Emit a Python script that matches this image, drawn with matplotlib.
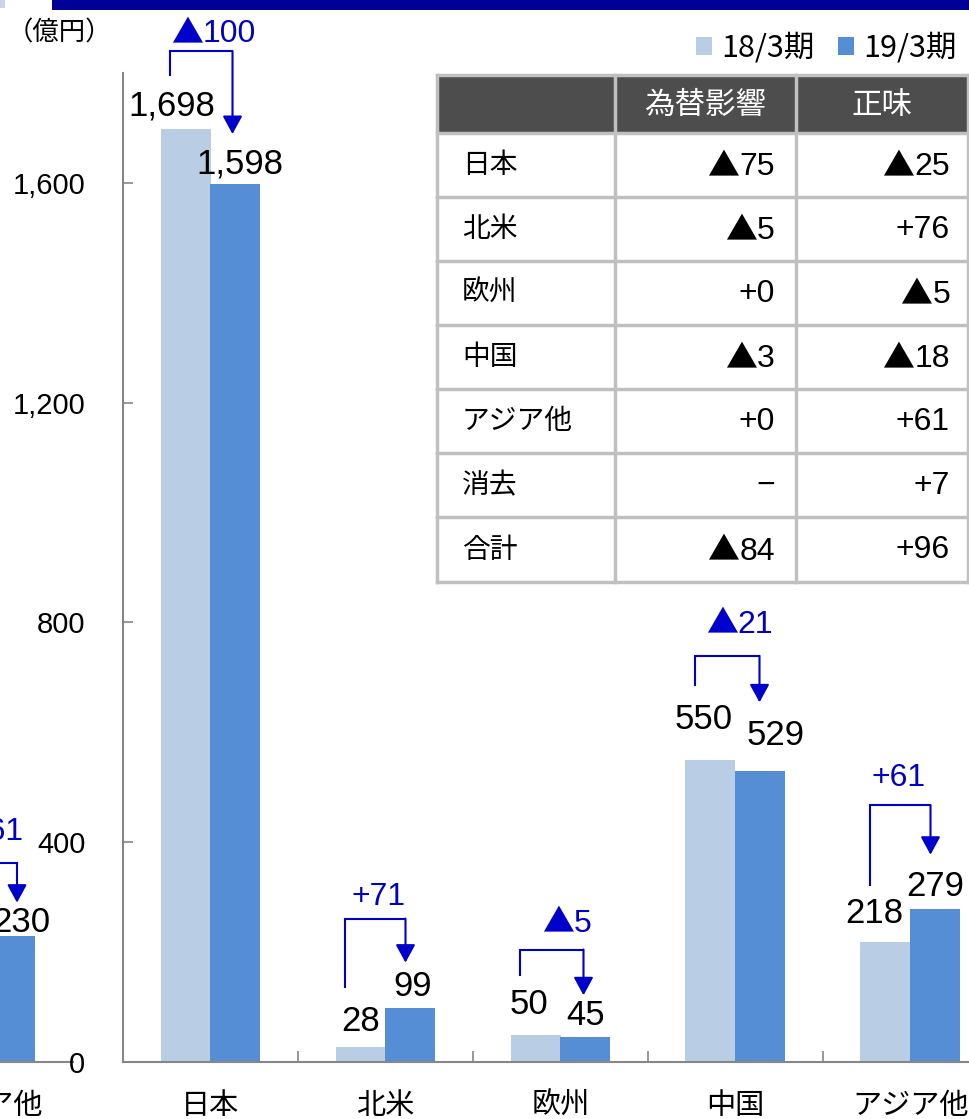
import matplotlib
matplotlib.use("Agg")
import matplotlib.pyplot as plt
from matplotlib.patches import Rectangle
from matplotlib.offsetbox import TextArea, HPacker, AnnotationBbox

plt.rcParams['font.family'] = ['Liberation Sans', 'Noto Sans CJK JP', 'DejaVu Sans']
JP = ['Noto Sans CJK JP', 'DejaVu Sans']
NUM = ['Liberation Sans', 'Noto Sans CJK JP']

# ---- data ----
categories = ["日本", "北米", "欧州", "中国", "アジア他"]
sales_18 = [1698, 28, 50, 550, 218]
sales_19 = [1598, 99, 45, 529, 279]
series_names = ["18/3期", "19/3期"]
yticks = [0, 400, 800, 1200, 1600]

# previous chart on the slide, only its last category is visible at the left edge
prev_categories = ["アジア他"]
prev_18 = [169]
prev_19 = [230]

table_rows = ["日本", "北米", "欧州", "中国", "アジア他", "消去", "合計"]
table_header = ["為替影響", "正味"]
fx_effect = [-75, -5, 0, -3, 0, None, -84]
net_effect = [-25, 76, -5, -18, 61, 7, 96]

# ---- style ----
LIGHT = "#B9CDE5"
DARK = "#558ED5"
ANN = "#0000CC"
AXC = "#868686"
W, H = 970, 1119
CAT_PX = 175.0          # pixels per category
PY = 1800 / 989.0       # data units per pixel (y)
BW = 50 / CAT_PX


def fig_rect(x0, y0, x1, y1):
    return [x0 / W, 1 - y1 / H, (x1 - x0) / W, (y1 - y0) / H]


def fmt_delta(v):
    if v is None:
        return "−"
    if v < 0:
        return "▲%d" % -v
    return "+%d" % v


def delta_text(ax, xy, v, size, color, align):
    # ▲ taken from the Japanese font (bigger), digits from the Arial-like font
    s = fmt_delta(v)
    parts = []
    if s.startswith("▲"):
        parts.append(TextArea("▲", textprops=dict(fontsize=size, color=color, family=JP)))
        s = s[1:]
    parts.append(TextArea(s, textprops=dict(fontsize=size, color=color, family=NUM)))
    box = HPacker(children=parts, align="baseline", pad=0, sep=0)
    ab = AnnotationBbox(box, xy, xycoords="data", box_alignment=align, frameon=False,
                        pad=0, annotation_clip=False)
    ax.add_artist(ab)


def draw_chart(ax, xs, cats, a, b, lab_off, brk):
    b1 = ax.bar([x - BW / 2 for x in xs], a, BW, color=LIGHT)
    b2 = ax.bar([x + BW / 2 for x in xs], b, BW, color=DARK)
    for i, x in enumerate(xs):
        (d1x, d1y), (d2x, d2y) = lab_off[i]
        ax.annotate(f"{a[i]:,}", (x - BW / 2, a[i]), xytext=(d1x * 0.72, d1y * 0.72),
                    textcoords="offset points", ha="center", va="center", fontsize=25,
                    annotation_clip=False)
        ax.annotate(f"{b[i]:,}", (x + BW / 2, b[i]), xytext=(d2x * 0.72, d2y * 0.72),
                    textcoords="offset points", ha="center", va="center", fontsize=25,
                    annotation_clip=False)
        top_px, lgap, tipgap, rx, tdx, tdy = brk[i]
        xl = x - 40 / CAT_PX
        xr = x + rx / CAT_PX
        ytop = a[i] + top_px * PY
        ylb = a[i] + lgap * PY
        ytip = b[i] + tipgap * PY
        ax.plot([xl, xl, xr], [ylb, ytop, ytop], color=ANN, lw=1.5, clip_on=False,
                solid_joinstyle="miter")
        ax.annotate("", xy=(xr, ytip), xytext=(xr, ytop), annotation_clip=False,
                    arrowprops=dict(arrowstyle="-|>,head_length=0.55,head_width=0.3",
                                    color=ANN, lw=1.5, shrinkA=0, shrinkB=0,
                                    mutation_scale=20))
        delta_text(ax, (x + tdx / CAT_PX, ytop + tdy * PY), b[i] - a[i], 23, ANN, (0.5, 0.5))
    ax.set_xlim(-0.5, 4.5)
    ax.set_ylim(0, 1800)
    for s in ["top", "right"]:
        ax.spines[s].set_visible(False)
    ax.spines["left"].set_color(AXC)
    ax.spines["bottom"].set_color(AXC)
    ax.spines["left"].set_linewidth(1.5)
    ax.spines["bottom"].set_linewidth(1.5)
    ax.set_xticks(xs)
    ax.set_xticklabels(cats, fontsize=21, family=JP)
    ax.tick_params(axis="x", which="major", length=0, pad=21)
    return b1, b2


fig = plt.figure(figsize=(W / 100, H / 100), dpi=100)

# previous chart (cut off by the slide crop)
ax0 = fig.add_axes(fig_rect(72.5 - 875, 73, 72.5, 1062))
draw_chart(ax0, [4], prev_categories, prev_18, prev_19,
           [((0, 25), (11, 13))],
           [(106, 55, 33, 32, 12, 31)])
ax0.spines["left"].set_visible(False)
ax0.set_yticks([])

# main chart
ax = fig.add_axes(fig_rect(123, 73, 998, 1062))
label_offsets = [((-14, 23), (4, 20)),
                 ((0, 25), (2, 21)),
                 ((-7, 30), (0, 22)),
                 ((-7, 40), (15, 36)),
                 ((-11, 29), (0, 22))]
brackets = [(78, 54, 50, 22, 3, 18),
            (128, 60, 45, 20, -7, 22),
            (85, 60, 42, 23, 6, 27),
            (104, 75, 69, 24, 4, 32),
            (137, 57, 54, 20, -12, 27)]
b1, b2 = draw_chart(ax, list(range(len(categories))), categories, sales_18, sales_19,
                    label_offsets, brackets)
ax.set_yticks(yticks)
ax.set_yticklabels([f"{t:,}" for t in yticks], fontsize=21)
ax.tick_params(axis="y", direction="in", length=7, width=1.2, color=AXC, pad=27)
ax.set_xticks([i + 0.5 for i in range(len(categories) - 1)], minor=True)
ax.tick_params(axis="x", which="minor", direction="in", length=8, width=1.2, color=AXC)

fig.legend([b1, b2], series_names, loc="upper right", bbox_to_anchor=(957 / W, 1 - 33 / H),
           ncol=2, frameon=False, prop=dict(family=JP, size=22), handlelength=0.55,
           handleheight=0.55, handletextpad=0.3, columnspacing=0.75, borderaxespad=0,
           borderpad=0)

fig.text(7 / W, 1 - 33 / H, "（億円）", fontsize=19, va="center", ha="left", family=JP)

# slide title bar remnant
fig.add_artist(Rectangle((52 / W, 1 - 10 / H), (W - 52) / W, 10 / H,
                         transform=fig.transFigure, color="#000099", lw=0))
fig.add_artist(Rectangle((0, 1 - 8 / H), 5 / W, 8 / H,
                         transform=fig.transFigure, color="#C9D3EC", lw=0))

# table
tax = fig.add_axes(fig_rect(437, 75, 968, 582))
tax.set_xlim(437, 968)
tax.set_ylim(582, 75)
tax.axis("off")
col_x = [437, 615, 796, 968]
row_y = [75, 133] + [133 + 64 * (k + 1) for k in range(len(table_rows))]
row_y[-1] = 582
tax.add_patch(Rectangle((437, 75), 531, 58, color="#4D4D4D", lw=0))
for x in col_x:
    tax.plot([x, x], [75, 582], color="#C0C0C0", lw=2.5, clip_on=False)
for y in row_y:
    tax.plot([437, 968], [y, y], color="#C0C0C0", lw=2.5, clip_on=False)
for j, h in enumerate(table_header):
    tax.text((col_x[j + 1] + col_x[j + 2]) / 2, (75 + 133) / 2 + 1, h, color="white",
             ha="center", va="center", fontsize=22, family=JP)
for i, name in enumerate(table_rows):
    yc = (row_y[i + 1] + row_y[i + 2]) / 2
    tax.text(462, yc, name, ha="left", va="center", fontsize=20, family=JP)
    delta_text(tax, (775, yc + 1), fx_effect[i], 23, "black", (1, 0.5))
    delta_text(tax, (950, yc + 1), net_effect[i], 23, "black", (1, 0.5))

fig.savefig("out.png", dpi=100)
